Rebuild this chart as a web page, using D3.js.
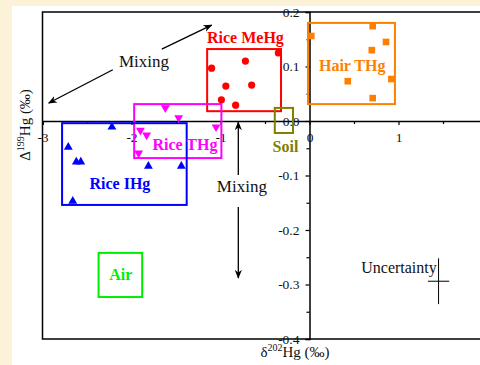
<!DOCTYPE html>
<html>
<head>
<meta charset="utf-8">
<script src="https://cdn.jsdelivr.net/npm/d3@7"></script>
<style>
  html, body { margin: 0; padding: 0; background: #fcf2d8; }
  svg { display: block; font-family: "Liberation Serif", "Times New Roman", serif; }
</style>
</head>
<body>
<svg id="chart" width="480" height="365"></svg>
<script>
// Data (x: d202Hg, y: D199Hg, per mil)
const riceMeHg = [[-1.10, 0.097], [-0.94, 0.064], [-0.99, 0.039], [-0.83, 0.029],
                  [-0.72, 0.110], [-0.65, 0.066], [-0.35, 0.125]];
const hairTHg = [[0.02, 0.156], [0.71, 0.174], [0.86, 0.145], [0.70, 0.130],
                 [0.43, 0.073], [0.92, 0.077], [0.71, 0.042]];
const riceTHg = [[-1.62, 0.024], [-1.47, 0.006], [-1.05, -0.011], [-1.90, -0.017],
                 [-1.83, -0.026], [-1.92, -0.059]];
const riceIHg = [[-2.22, -0.011], [-2.71, -0.048], [-2.62, -0.075], [-2.57, -0.075],
                 [-1.81, -0.083], [-1.44, -0.083], [-2.66, -0.147]];

// group boxes [x0, x1, y0, y1] and labels [x, y] in data units
const groups = [
  { name: 'Rice MeHg', color: '#ff0000', box: [-1.15, -0.32, 0.132, 0.018], label: [-0.72, 0.143] },
  { name: 'Hair THg',  color: '#ff8000', box: [-0.017, 0.96, 0.180, 0.031], label: [0.48, 0.092] },
  { name: 'Rice THg',  color: '#ff00ff', box: [-1.97, -0.99, 0.031, -0.068], label: [-1.40, -0.053] },
  { name: 'Rice IHg',  color: '#0000ff', box: [-2.78, -1.38, -0.004, -0.154], label: [-2.13, -0.125] },
  { name: 'Soil',      color: '#808000', box: [-0.39, -0.185, 0.024, -0.022], label: [-0.27, -0.057] },
  { name: 'Air',       color: '#00ee00', box: [-2.37, -1.88, -0.242, -0.323], label: [-2.12, -0.291] }
];

const xTicks = [-3, -2, -1, 0, 1];
const xMinor = [-2.5, -1.5, -0.5, 0.5, 1.5];
const yTicks = [0.2, 0.1, 0.0, -0.1, -0.2, -0.3, -0.4];
const yMinor = [0.15, 0.05, -0.05, -0.15, -0.25, -0.35];

const svg = d3.select('#chart');

svg.append('rect').attr('x', 12).attr('y', 6).attr('width', 468).attr('height', 359).attr('fill', '#fff');

const x = d3.scaleLinear().domain([-3, 2]).range([42.5, 487.5]);
const y = d3.scaleLinear().domain([-0.4, 0.2]).range([339, 12]);

// frame
svg.append('rect')
  .attr('x', x(-3)).attr('y', y(0.2))
  .attr('width', x(2) - x(-3)).attr('height', y(-0.4) - y(0.2))
  .attr('fill', 'none').attr('stroke', '#000').attr('stroke-width', 1.5);

// axes through the origin (plain hyphen minus, as in the figure)
svg.append('g').attr('transform', `translate(0,${y(0)})`)
  .call(d3.axisBottom(x).tickValues(xTicks).tickFormat(d => String(d)).tickSize(4).tickPadding(7));
svg.append('g').attr('transform', `translate(0,${y(0)})`)
  .call(d3.axisBottom(x).tickValues(xMinor).tickFormat('').tickSize(3))
  .select('.domain').remove();

svg.append('g').attr('transform', `translate(${x(0)},0)`)
  .call(d3.axisLeft(y).tickValues(yTicks).tickFormat(d => d.toFixed(1)).tickSize(4).tickPadding(6));
svg.append('g').attr('transform', `translate(${x(0)},0)`)
  .call(d3.axisLeft(y).tickValues(yMinor).tickFormat('').tickSize(3))
  .select('.domain').remove();

svg.selectAll('.domain').attr('stroke-width', 1.5);
svg.selectAll('.tick line').attr('stroke-width', 1.2);
svg.selectAll('.tick text')
  .attr('font-family', '"Liberation Serif", serif')
  .attr('font-size', 13.5).attr('fill', '#111');

// boxes
svg.append('g').selectAll('rect')
  .data(groups)
  .join('rect')
  .attr('x', d => x(d.box[0]))
  .attr('y', d => y(d.box[2]))
  .attr('width', d => x(d.box[1]) - x(d.box[0]))
  .attr('height', d => y(d.box[3]) - y(d.box[2]))
  .attr('fill', 'none')
  .attr('stroke', d => d.color)
  .attr('stroke-width', 2);

svg.append('g').selectAll('text')
  .data(groups)
  .join('text')
  .attr('x', d => x(d.label[0]))
  .attr('y', d => y(d.label[1]))
  .attr('text-anchor', 'middle')
  .attr('font-weight', 'bold')
  .attr('font-size', 16)
  .attr('fill', d => d.color)
  .text(d => d.name);

// points
svg.append('g').selectAll('circle')
  .data(riceMeHg)
  .join('circle')
  .attr('cx', d => x(d[0])).attr('cy', d => y(d[1]))
  .attr('r', 3.6).attr('fill', '#ff0000');

svg.append('g').selectAll('path')
  .data(hairTHg)
  .join('path')
  .attr('transform', d => `translate(${x(d[0])},${y(d[1])})`)
  .attr('d', d3.symbol(d3.symbolSquare, 44))
  .attr('fill', '#ff8000');

svg.append('g').selectAll('path')
  .data(riceTHg)
  .join('path')
  .attr('transform', d => `translate(${x(d[0])},${y(d[1])}) rotate(180)`)
  .attr('d', d3.symbol(d3.symbolTriangle, 34))
  .attr('fill', '#ff00ff');

svg.append('g').selectAll('path')
  .data(riceIHg)
  .join('path')
  .attr('transform', d => `translate(${x(d[0])},${y(d[1])})`)
  .attr('d', d3.symbol(d3.symbolTriangle, 34))
  .attr('fill', '#0000ff');

// arrow markers
const defs = svg.append('defs');
defs.append('marker')
  .attr('id', 'arr')
  .attr('viewBox', '0 0 10 10')
  .attr('refX', 9).attr('refY', 5)
  .attr('markerWidth', 9).attr('markerHeight', 9)
  .attr('markerUnits', 'userSpaceOnUse')
  .attr('orient', 'auto')
  .append('path').attr('d', 'M0,1 L10,5 L0,9 L3,5 Z').attr('fill', '#000');

function arrowLine(x1, y1, x2, y2) {
  svg.append('line')
    .attr('x1', x(x1)).attr('y1', y(y1))
    .attr('x2', x(x2)).attr('y2', y(y2))
    .attr('stroke', '#000').attr('stroke-width', 1.3)
    .attr('marker-end', 'url(#arr)');
}

// diagonal mixing arrow (split around its label)
arrowLine(-2.21, 0.094, -2.93, 0.033);
arrowLine(-1.66, 0.132, -1.10, 0.176);
svg.append('text')
  .attr('x', x(-1.86)).attr('y', y(0.100))
  .attr('text-anchor', 'middle').attr('font-size', 17).attr('fill', '#111')
  .text('Mixing');

// vertical mixing arrow
arrowLine(-0.80, -0.099, -0.80, -0.002);
arrowLine(-0.80, -0.158, -0.80, -0.288);
svg.append('text')
  .attr('x', x(-0.76)).attr('y', y(-0.130))
  .attr('text-anchor', 'middle').attr('font-size', 17).attr('fill', '#111')
  .text('Mixing');

// uncertainty cross
const unc = { cx: 1.45, cy: -0.294, dx: 0.12, dy: 0.042 };
svg.append('line')
  .attr('x1', x(unc.cx - unc.dx)).attr('x2', x(unc.cx + unc.dx))
  .attr('y1', y(unc.cy)).attr('y2', y(unc.cy))
  .attr('stroke', '#000').attr('stroke-width', 1);
svg.append('line')
  .attr('x1', x(unc.cx)).attr('x2', x(unc.cx))
  .attr('y1', y(unc.cy + unc.dy)).attr('y2', y(unc.cy - unc.dy))
  .attr('stroke', '#000').attr('stroke-width', 1);
svg.append('text')
  .attr('x', x(unc.cx - 0.02)).attr('y', y(-0.279))
  .attr('text-anchor', 'end').attr('font-size', 16).attr('fill', '#111')
  .text('Uncertainty');

// axis titles
const yt = svg.append('text')
  .attr('transform', 'translate(30,125) rotate(-90)')
  .attr('text-anchor', 'middle').attr('font-size', 15).attr('fill', '#111');
yt.append('tspan').text('Δ');
yt.append('tspan').attr('font-size', 10).attr('dy', -6).text('199');
yt.append('tspan').attr('dy', 6).text('Hg (‰)');

const xt = svg.append('text')
  .attr('x', 295).attr('y', 357)
  .attr('text-anchor', 'middle').attr('font-size', 15).attr('fill', '#111');
xt.append('tspan').text('δ');
xt.append('tspan').attr('font-size', 10).attr('dy', -6).text('202');
xt.append('tspan').attr('dy', 6).text('Hg (‰)');
</script>
</body>
</html>
